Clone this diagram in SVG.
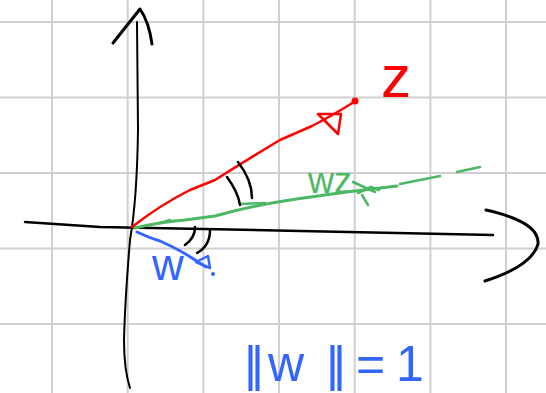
<svg xmlns="http://www.w3.org/2000/svg" width="546" height="393" viewBox="0 0 546 393">
<style>
.grid{stroke:#d0d0d0;stroke-width:2;fill:none}
.ink{fill:none;stroke-linecap:round;stroke-linejoin:round}
.k{stroke:#000}
.r{stroke:#ff0000}
.g{stroke:#4cb863}
.b{stroke:#3366ff}
.lbl{font-family:"Liberation Sans",Arial,sans-serif}
</style>
<rect width="546" height="393" fill="#fff"/>
<g id="grid" class="grid">
<line x1="52" y1="0" x2="52" y2="393"/>
<line x1="127.7" y1="0" x2="127.7" y2="393"/>
<line x1="203.4" y1="0" x2="203.4" y2="393"/>
<line x1="279" y1="0" x2="279" y2="393"/>
<line x1="354.7" y1="0" x2="354.7" y2="393"/>
<line x1="430.4" y1="0" x2="430.4" y2="393"/>
<line x1="506" y1="0" x2="506" y2="393"/>
<line x1="0" y1="22" x2="546" y2="22"/>
<line x1="0" y1="97.5" x2="546" y2="97.5"/>
<line x1="0" y1="173" x2="546" y2="173"/>
<line x1="0" y1="248.5" x2="546" y2="248.5"/>
<line x1="0" y1="324" x2="546" y2="324"/>
</g>
<g id="axes">
<path class="ink k" stroke-width="2" d="M137 22 L138 130 Q137 200 130 240 Q125 300 124 340 Q124 370 130 388"/>
<path class="ink k" stroke-width="3" d="M113 43 L140 9 Q149 22 152 44"/>
<path class="ink k" stroke-width="2.5" d="M25 222 L100 227 L300 231 L493 235"/>
<path class="ink k" stroke-width="3" d="M486 210 Q540 222 538 244 Q532 266 485 281"/>
</g>
<g id="connectors">
<g id="vec-z">
<path class="ink r" stroke-width="2.5" d="M132 227 Q160 205 190 190 L215 180 Q250 158 280 140 L312 126 Q335 114 354 102"/>
<path class="ink r" stroke-width="2.5" d="M318 114 L338 134 L341 114 Z"/>
<circle cx="355" cy="101" r="3.5" fill="#ff0000"/>
</g>
<g id="vec-wz">
<path class="ink g" stroke-width="3" d="M135 228 Q160 222 185 220 L215 216 Q250 206 290 200 Q330 194 355 191 L397 186"/>
<path class="ink g" stroke-width="2.5" d="M160 223 L170 220 M240 204 L265 203 M400 184 L440 176 M457 172 L480 167"/>
<path class="ink g" stroke-width="2.5" d="M353 182 L375 192 M358 193 L371 187 L379 190 M362 195 L368 205"/>
</g>
<g id="vec-w">
<path class="ink b" stroke-width="3" d="M137 232 Q150 238 160 241 Q180 250 192 258 L206 267"/>
<path class="ink b" stroke-width="2.5" d="M196 262 L208 256 L210 268 Z"/>
<circle cx="213" cy="274" r="2" fill="#3366ff"/>
</g>
<g id="angles">
<path class="ink k" stroke-width="2.5" d="M227 177 Q238 192 240 205 M238 162 Q252 180 252 198"/>
<path class="ink k" stroke-width="2.5" d="M195 227 Q195 238 185 245 M210 230 Q210 246 197 253"/>
</g>
</g>
<g id="label-z"><text class="lbl" x="381" y="97" font-size="60" fill="#ff0000">z</text></g>
<g id="label-wz"><text class="lbl" x="308" y="193" font-size="36" fill="#4cb863">wz</text></g>
<g id="label-w"><text class="lbl" x="152" y="280" font-size="44" fill="#3366ff">w</text></g>
<g id="label-norm"><text class="lbl" x="244 251 268 326 333 345 356 388 396" y="381" font-size="50" fill="#3366ff">||w|| = 1</text></g>
</svg>
